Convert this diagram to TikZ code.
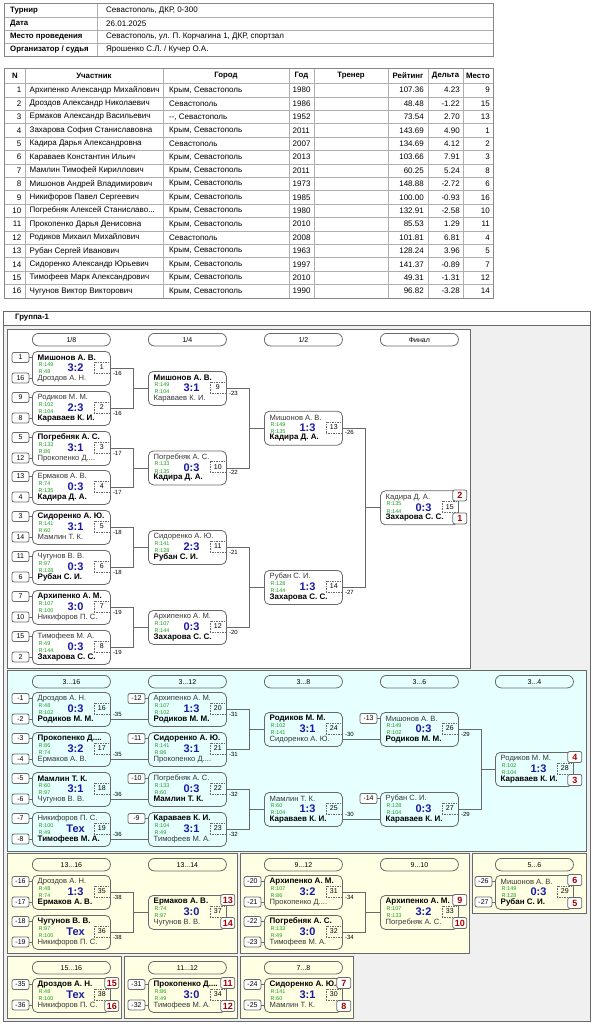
\documentclass[tikz,border=0pt]{standalone}
\usepackage{fontspec}
\setmainfont{Liberation Sans}
\usetikzlibrary{calc}

\definecolor{scoreblue}{RGB}{25,25,165}
\definecolor{rgreen}{RGB}{20,160,20}
\definecolor{placered}{RGB}{165,0,0}
\definecolor{losegray}{RGB}{55,55,55}
\definecolor{framegray}{RGB}{105,105,105}
\definecolor{cellgray}{RGB}{175,175,175}
\definecolor{bggray}{RGB}{240,240,240}
\definecolor{cyanbg}{RGB}{230,255,255}
\definecolor{yellowbg}{RGB}{255,255,228}

\newcommand{\fsz}[1]{\fontsize{#1}{#1}\selectfont}
\newcommand{\win}[1]{{\fsz{8}\bfseries\color{black}#1}}
\newcommand{\tdots}{...}

\tikzset{
    link/.style={draw=framegray, line width=0.8pt},
    grid/.style={draw=cellgray, line width=0.7pt},
    tframe/.style={draw=framegray!80, line width=0.8pt},
    cell/.style={inner sep=0pt, font=\fsz{8}},
    headcell/.style={inner sep=0pt, font=\fsz{7.8}\bfseries},
    panel/.style={draw=framegray, line width=0.8pt},
    mbox/.style={draw=framegray, line width=0.8pt, rounded corners=5pt, anchor=north west, minimum width=78pt, minimum height=34pt, inner sep=0pt},
    pname/.style={anchor=west, inner sep=0pt, font=\fsz{7.6}, text=losegray},
    rtext/.style={anchor=west, inner sep=0pt, font=\fsz{5.5}, text=rgreen},
    score/.style={inner sep=0pt, font=\fsz{11}\bfseries, text=scoreblue},
    numbox/.style={draw=framegray, dash pattern=on 1.5pt off 1pt, minimum width=16pt, minimum height=11pt, inner sep=0pt, font=\fsz{7}},
    seedbox/.style={draw=framegray, line width=0.8pt, rounded corners=2pt, fill=white, minimum width=17pt, minimum height=10pt, inner sep=0pt, font=\fsz{7}},
    plbox/.style={draw=framegray, line width=0.8pt, rounded corners=2pt, fill=white, minimum width=14pt, minimum height=11pt, inner sep=0pt, font=\fsz{9}\bfseries, text=placered},
    rndbox/.style={draw=framegray, line width=0.8pt, rounded corners=6pt, anchor=north west, minimum width=78pt, minimum height=12.5pt, inner sep=0pt, font=\fsz{7}},
    lbl/.style={anchor=west, inner sep=0pt, font=\fsz{6}},
}

% name, left, top, number, score, rating 1, rating 2, top player, bottom player
\newcommand{\match}[9]{%
    \node[mbox] (#1) at (#2,#3) {};
    \node[pname] (#1a) at ($(#1.north west)+(5.5,6.8)$) {#8};
    \node[rtext] (#1r) at ($(#1.north west)+(6.5,13.5)$) {R:#6};
    \node[rtext] (#1s) at ($(#1.north west)+(6.5,21)$) {R:#7};
    \node[score] (#1c) at ($(#1.north west)+(43.5,17)$) {#5};
    \node[pname] (#1b) at ($(#1.north west)+(5.5,27.2)$) {#9};
    \node[numbox] (#1n) at ($(#1.north east)+(-9,16.5)$) {#4};
}
\newcommand{\seedt}[2]{%
    \node[seedbox] (#1st) at ($(#1.north west)+(-11.5,6.5)$) {#2};
    \draw[link] (#1st.east) -- (#1st.east -| #1.west);
}
\newcommand{\seedb}[2]{%
    \node[seedbox] (#1sb) at ($(#1.north west)+(-11.5,27)$) {#2};
    \draw[link] (#1sb.east) -- (#1sb.east -| #1.west);
}
\newcommand{\places}[3]{%
    \node[plbox] (#1pa) at ($(#1.north east)+(1,5)$) {#2};
    \node[plbox] (#1pb) at ($(#1.north east)+(1,28)$) {#3};
}
\newcommand{\tolose}[2]{%
    \node[lbl] (#1l) at ($(#1.north east)+(2,22)$) {#2};
}
\newcommand{\pairlink}[3]{%
    \draw[link] (#1.east) -- ++(23,0) |- (#3.west);
    \draw[link] (#2.east) -- ++(23,0) |- (#3.west);
}

\begin{document}
\begin{tikzpicture}[x=1pt,y=-1pt]
    \fill[white] (0,0) rectangle (593,1024);
    \useasboundingbox (0,0) rectangle (593,1024);

    % info table
    \foreach \y in {17,30,43}{
        \draw[grid] (5,\y) -- (493,\y);
    }
    \draw[grid] (97.5,4) -- (97.5,56);
    \draw[tframe] (4.5,3.5) rectangle (493,56);
    \foreach \lab/\val [count=\i] in {Турнир/{Севастополь, ДКР, 0-300}, Дата/26.01.2025, {Место проведения}/{Севастополь, ул. П. Корчагина 1, ДКР, спортзал}, {Организатор / судья}/{Ярошенко С.Л. / Кучер О.А.}}{
        \pgfmathsetmacro{\ya}{4+13*(\i-1)}
        \node[headcell, anchor=west] (lab\i) at (10,\ya+6.5) {\lab};
        \node[cell, anchor=west] (val\i) at (106,\ya+6.5) {\val};
    }

    % participants
    \foreach \r in {0,...,15}{
        \draw[grid] (5,{83.5+13.4*\r}) -- (493,{83.5+13.4*\r});
    }
    \foreach \xa/\xb/\hd [count=\c] in {5/25/N, 25/163/Участник, 163/289/Город, 289/314/Год, 314/388/Тренер, 388/428/Рейтинг, 428/463/Дельта, 463/493/Место}{
        \draw[grid] (\xb,68) -- (\xb,298);
        \node[headcell] (hd\c) at ({(\xa+\xb)/2},75.8) {\hd};
    }
    \draw[tframe] (4.5,68) rectangle (493,298);
    \foreach \nn/\who/\town/\yr/\rt/\dl/\pl in {
        1/Архипенко Александр Михайлович/{Крым, Севастополь}/1980/107.36/4.23/9,
        2/Дроздов Александр Николаевич/Севастополь/1986/48.48/-1.22/15,
        3/Ермаков Александр Васильевич/{-{}-, Севастополь}/1952/73.54/2.70/13,
        4/Захарова София Станиславовна/{Крым, Севастополь}/2011/143.69/4.90/1,
        5/Кадира Дарья Александровна/Севастополь/2007/134.69/4.12/2,
        6/Караваев Константин Ильич/{Крым, Севастополь}/2013/103.66/7.91/3,
        7/Мамлин Тимофей Кириллович/{Крым, Севастополь}/2011/60.25/5.24/8,
        8/Мишонов Андрей Владимирович/{Крым, Севастополь}/1973/148.88/-2.72/6,
        9/Никифоров Павел Сергеевич/{Крым, Севастополь}/1985/100.00/-0.93/16,
        10/{Погребняк Алексей Станиславо\tdots}/{Крым, Севастополь}/1980/132.91/-2.58/10,
        11/Прокопенко Дарья Денисовна/{Крым, Севастополь}/2010/85.53/1.29/11,
        12/Родиков Михаил Михайлович/Севастополь/2008/101.81/6.81/4,
        13/Рубан Сергей Иванович/{Крым, Севастополь}/1963/128.24/3.96/5,
        14/Сидоренко Александр Юрьевич/{Крым, Севастополь}/1997/141.37/-0.89/7,
        15/Тимофеев Марк Александрович/{Крым, Севастополь}/2010/49.31/-1.31/12,
        16/Чугунов Виктор Викторович/{Крым, Севастополь}/1990/96.82/-3.28/14}{
        \pgfmathsetmacro{\yy}{83.5+13.4*(\nn-0.5)}
        \node[cell, anchor=east] (num\nn) at (21.5,\yy) {\nn};
        \node[cell, anchor=west] (who\nn) at (29.5,\yy) {\who};
        \node[cell, anchor=west] (town\nn) at (169,\yy) {\town};
        \node[cell, anchor=west] (yr\nn) at (292.5,\yy) {\yr};
        \node[cell, anchor=east] (rt\nn) at (424,\yy) {\rt};
        \node[cell, anchor=east] (dl\nn) at (460,\yy) {\dl};
        \node[cell, anchor=east] (pl\nn) at (490,\yy) {\pl};
    }

    % group frame and panels
    \fill[bggray] (3,311) rectangle (590,1021);
    \draw[framegray] (3,311) rectangle (590,1021);
    \draw[framegray, fill=white] (3,311) rectangle (590,325);
    \node[headcell, anchor=west] (grp) at (15,318) {Группа-1};
    \draw[panel, fill=white] (7,329) rectangle (470,668);
    \draw[panel, fill=cyanbg] (7,670.5) rectangle (586,851);
    \foreach \xa/\ya/\xb/\yb in {7/853.5/237/953, 240/853.5/469/953, 472/853.5/586/913, 7/956/121/1018, 124/956/237/1018, 240/956/353/1018}{
        \draw[panel, fill=yellowbg] (\xa,\ya) rectangle (\xb,\yb);
    }
    \foreach \x/\y/\hd [count=\i] in {32/333/{1/8}, 148/333/{1/4}, 264/333/{1/2}, 380/333/Финал, 32/675/{3\tdots16}, 148/675/{3\tdots12}, 264/675/{3\tdots8}, 380/675/{3\tdots6}, 495/675/{3\tdots4}, 32/858/{13\tdots16}, 148/858/{13\tdots14}, 264/858/{9\tdots12}, 380/858/{9\tdots10}, 495/858/{5\tdots6}, 32/961/{15\tdots16}, 148/961/{11\tdots12}, 264/961/{7\tdots8}}{
        \node[rndbox] (rnd\i) at (\x,\y) {\hd};
    }

    % main bracket
    \match{m1}{32}{351}{1}{3:2}{149}{48}{\win{Мишонов А. В.}}{Дроздов А. Н.}
    \match{m2}{32}{391}{2}{2:3}{102}{104}{Родиков М. М.}{\win{Караваев К. И.}}
    \match{m3}{32}{431}{3}{3:1}{133}{86}{\win{Погребняк А. С.}}{Прокопенко Д....}
    \match{m4}{32}{470}{4}{0:3}{74}{135}{Ермаков А. В.}{\win{Кадира Д. А.}}
    \match{m5}{32}{510}{5}{3:1}{141}{60}{\win{Сидоренко А. Ю.}}{Мамлин Т. К.}
    \match{m6}{32}{550}{6}{0:3}{97}{128}{Чугунов В. В.}{\win{Рубан С. И.}}
    \match{m7}{32}{590}{7}{3:0}{107}{100}{\win{Архипенко А. М.}}{Никифоров П. С.}
    \match{m8}{32}{630}{8}{0:3}{49}{144}{Тимофеев М. А.}{\win{Захарова С. С.}}
    \match{m9}{148}{371}{9}{3:1}{149}{104}{\win{Мишонов А. В.}}{Караваев К. И.}
    \match{m10}{148}{450.5}{10}{0:3}{133}{135}{Погребняк А. С.}{\win{Кадира Д. А.}}
    \match{m11}{148}{530}{11}{2:3}{141}{128}{Сидоренко А. Ю.}{\win{Рубан С. И.}}
    \match{m12}{148}{610}{12}{0:3}{107}{144}{Архипенко А. М.}{\win{Захарова С. С.}}
    \match{m13}{264}{410.75}{13}{1:3}{149}{135}{Мишонов А. В.}{\win{Кадира Д. А.}}
    \match{m14}{264}{570}{14}{1:3}{128}{144}{Рубан С. И.}{\win{Захарова С. С.}}
    \match{m15}{380}{490.4}{15}{0:3}{135}{144}{Кадира Д. А.}{\win{Захарова С. С.}}
    \places{m15}{2}{1}
    \foreach \p/\q/\r in {m1/m2/m9, m3/m4/m10, m5/m6/m11, m7/m8/m12, m9/m10/m13, m11/m12/m14, m13/m14/m15}{
        \pairlink{\p}{\q}{\r}
    }

    % 3...16
    \match{m16}{32}{692}{16}{0:3}{48}{102}{Дроздов А. Н.}{\win{Родиков М. М.}}
    \match{m17}{32}{732}{17}{3:2}{86}{74}{\win{Прокопенко Д....}}{Ермаков А. В.}
    \match{m18}{32}{772}{18}{3:1}{60}{97}{\win{Мамлин Т. К.}}{Чугунов В. В.}
    \match{m19}{32}{812}{19}{Тех}{100}{49}{Никифоров П. С.}{\win{Тимофеев М. А.}}
    \match{m20}{148}{692}{20}{1:3}{107}{102}{Архипенко А. М.}{\win{Родиков М. М.}}
    \match{m21}{148}{732}{21}{3:1}{141}{86}{\win{Сидоренко А. Ю.}}{Прокопенко Д....}
    \match{m22}{148}{772}{22}{0:3}{133}{60}{Погребняк А. С.}{\win{Мамлин Т. К.}}
    \match{m23}{148}{812}{23}{3:1}{104}{49}{\win{Караваев К. И.}}{Тимофеев М. А.}
    \match{m24}{264}{712}{24}{3:1}{102}{141}{\win{Родиков М. М.}}{Сидоренко А. Ю.}
    \match{m25}{264}{792}{25}{1:3}{60}{104}{Мамлин Т. К.}{\win{Караваев К. И.}}
    \match{m26}{380}{712}{26}{0:3}{149}{102}{Мишонов А. В.}{\win{Родиков М. М.}}
    \match{m27}{380}{792}{27}{0:3}{128}{104}{Рубан С. И.}{\win{Караваев К. И.}}
    \match{m28}{495}{752}{28}{1:3}{102}{104}{Родиков М. М.}{\win{Караваев К. И.}}
    \places{m28}{4}{3}
    \foreach \p/\q in {m16/m20, m17/m21, m18/m22, m19/m23, m24/m26, m25/m27}{
        \draw[link] (\p b -| \p.east) -- (\p b -| \q.west);
    }
    \pairlink{m20}{m21}{m24}
    \pairlink{m22}{m23}{m25}
    \pairlink{m26}{m27}{m28}

    % 13...16, 9...12, 5...6
    \match{m35}{32}{875}{35}{1:3}{48}{74}{Дроздов А. Н.}{\win{Ермаков А. В.}}
    \match{m36}{32}{915}{36}{Тех}{97}{100}{\win{Чугунов В. В.}}{Никифоров П. С.}
    \match{m37}{148}{895}{37}{3:0}{74}{97}{\win{Ермаков А. В.}}{Чугунов В. В.}
    \places{m37}{13}{14}
    \pairlink{m35}{m36}{m37}
    \match{m31}{264}{875}{31}{3:2}{107}{86}{\win{Архипенко А. М.}}{Прокопенко Д....}
    \match{m32}{264}{915}{32}{3:0}{133}{49}{\win{Погребняк А. С.}}{Тимофеев М. А.}
    \match{m33}{380}{895}{33}{3:2}{107}{133}{\win{Архипенко А. М.}}{Погребняк А. С.}
    \places{m33}{9}{10}
    \pairlink{m31}{m32}{m33}
    \match{m29}{495}{875}{29}{0:3}{149}{128}{Мишонов А. В.}{\win{Рубан С. И.}}
    \places{m29}{6}{5}

    % 15...16, 11...12, 7...8
    \match{m38}{32}{978}{38}{Тех}{48}{100}{\win{Дроздов А. Н.}}{Никифоров П. С.}
    \places{m38}{15}{16}
    \match{m34}{148}{978}{34}{3:0}{86}{49}{\win{Прокопенко Д....}}{Тимофеев М. А.}
    \places{m34}{11}{12}
    \match{m30}{264}{978}{30}{3:1}{141}{60}{\win{Сидоренко А. Ю.}}{Мамлин Т. К.}
    \places{m30}{7}{8}

    % seeds and loser labels
    \foreach \m/\sa/\sb in {m1/1/16, m2/9/8, m3/5/12, m4/13/4, m5/3/14, m6/11/6, m7/7/10, m8/15/2, m16/-1/-2, m17/-3/-4, m18/-5/-6, m19/-7/-8, m35/-16/-17, m36/-18/-19, m31/-20/-21, m32/-22/-23, m29/-26/-27, m38/-35/-36, m34/-31/-32, m30/-24/-25}{
        \seedt{\m}{\sa}
        \seedb{\m}{\sb}
    }
    \foreach \m/\sa in {m20/-12, m21/-11, m22/-10, m23/-9, m26/-13, m27/-14}{
        \seedt{\m}{\sa}
    }
    \foreach \m/\l in {m1/-16, m2/-16, m3/-17, m4/-17, m5/-18, m6/-18, m7/-19, m8/-19, m9/-23, m10/-22, m11/-21, m12/-20, m13/-26, m14/-27, m16/-35, m17/-35, m18/-36, m19/-36, m20/-31, m21/-31, m22/-32, m23/-32, m24/-30, m25/-30, m26/-29, m27/-29, m35/-38, m36/-38, m31/-34, m32/-34}{
        \tolose{\m}{\l}
    }
\end{tikzpicture}
\end{document}
